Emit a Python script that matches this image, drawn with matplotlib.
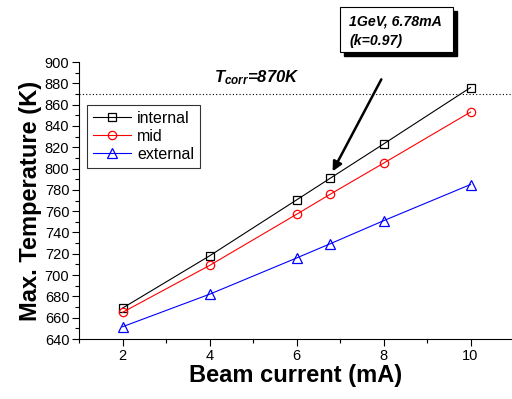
import matplotlib.pyplot as plt
from matplotlib.patches import Rectangle
from matplotlib.ticker import MultipleLocator

plt.rcParams['font.family'] = ['Liberation Sans', 'DejaVu Sans']
plt.rcParams['mathtext.fontset'] = 'custom'
plt.rcParams['mathtext.it'] = 'Liberation Sans:bold:italic'
plt.rcParams['mathtext.rm'] = 'Liberation Sans:bold:italic'

current = [2, 4, 6, 6.78, 8, 10]
internal = [669, 718, 770.5, 791, 823, 876]
mid = [665, 709, 757, 776, 805, 853]
external = [651.5, 682, 716, 729.5, 751, 785]
t_corr = 870

W, H = 512, 399
fig = plt.figure(figsize=(W / 100, H / 100), dpi=100)
ax = fig.add_axes([79 / W, 60 / H, 433 / W, 277 / H])

ax.plot(current, internal, color='black', lw=0.8, marker='s', ms=6, mfc='none', mew=0.9, label='internal')
ax.plot(current, mid, color='red', lw=0.8, marker='o', ms=6, mfc='none', mew=0.9, label='mid')
ax.plot(current, external, color='blue', lw=0.8, marker='^', ms=7, mfc='none', mew=0.9, label='external')
ax.axhline(t_corr, color='black', lw=0.8, ls=(0, (1, 2)))

ax.set_xlim(1, 1 + 433 / 43.5)
ax.set_ylim(640, 900)
ax.xaxis.set_major_locator(MultipleLocator(2))
ax.xaxis.set_minor_locator(MultipleLocator(1))
ax.yaxis.set_major_locator(MultipleLocator(20))
ax.yaxis.set_minor_locator(MultipleLocator(10))
ax.spines['top'].set_visible(False)
ax.spines['right'].set_visible(False)
ax.tick_params(which='major', length=5, width=0.8, labelsize=10.5, pad=2)
ax.tick_params(which='minor', length=3, width=0.8)
ax.set_xticks([2, 4, 6, 8, 10])

ax.set_xlabel('Beam current (mA)', fontsize=17, fontweight='bold', labelpad=1)
ax.set_ylabel('Max. Temperature (K)', fontsize=17, fontweight='bold', labelpad=2)

leg = ax.legend(loc='upper left', bbox_to_anchor=(8 / 433, 1 - 43 / 277), fontsize=11.5,
                frameon=True, fancybox=False, edgecolor='black', handlelength=2.4,
                borderpad=0.35, labelspacing=0.2, handletextpad=0.4, borderaxespad=0)
leg.get_frame().set_linewidth(0.8)

ax.text(4.1, 877, r'$T_{corr}$=870K', fontsize=12,
        fontweight='bold', style='italic', va='bottom')

ax.annotate('', xy=(6.8, 795), xytext=(7.98, 886),
            arrowprops=dict(arrowstyle='-|>', color='black', lw=1.8, mutation_scale=14),
            annotation_clip=False)

# callout box with drop shadow (figure pixel coords)
px = fig.transFigure
fig.patches.append(Rectangle((344 / W, (H - 56) / H), 113 / W, 45 / H, transform=px,
                             facecolor='black', edgecolor='black'))
fig.patches.append(Rectangle((340 / W, (H - 52) / H), 113 / W, 45 / H, transform=px,
                             facecolor='white', edgecolor='black', lw=0.8))
fig.text(349 / W, (H - 22) / H, '1GeV, 6.78mA', fontsize=10.2, fontweight='bold', style='italic', va='center')
fig.text(349 / W, (H - 41) / H, '(k=0.97)', fontsize=10.2, fontweight='bold', style='italic', va='center')

fig.savefig('out.png', dpi=100)
